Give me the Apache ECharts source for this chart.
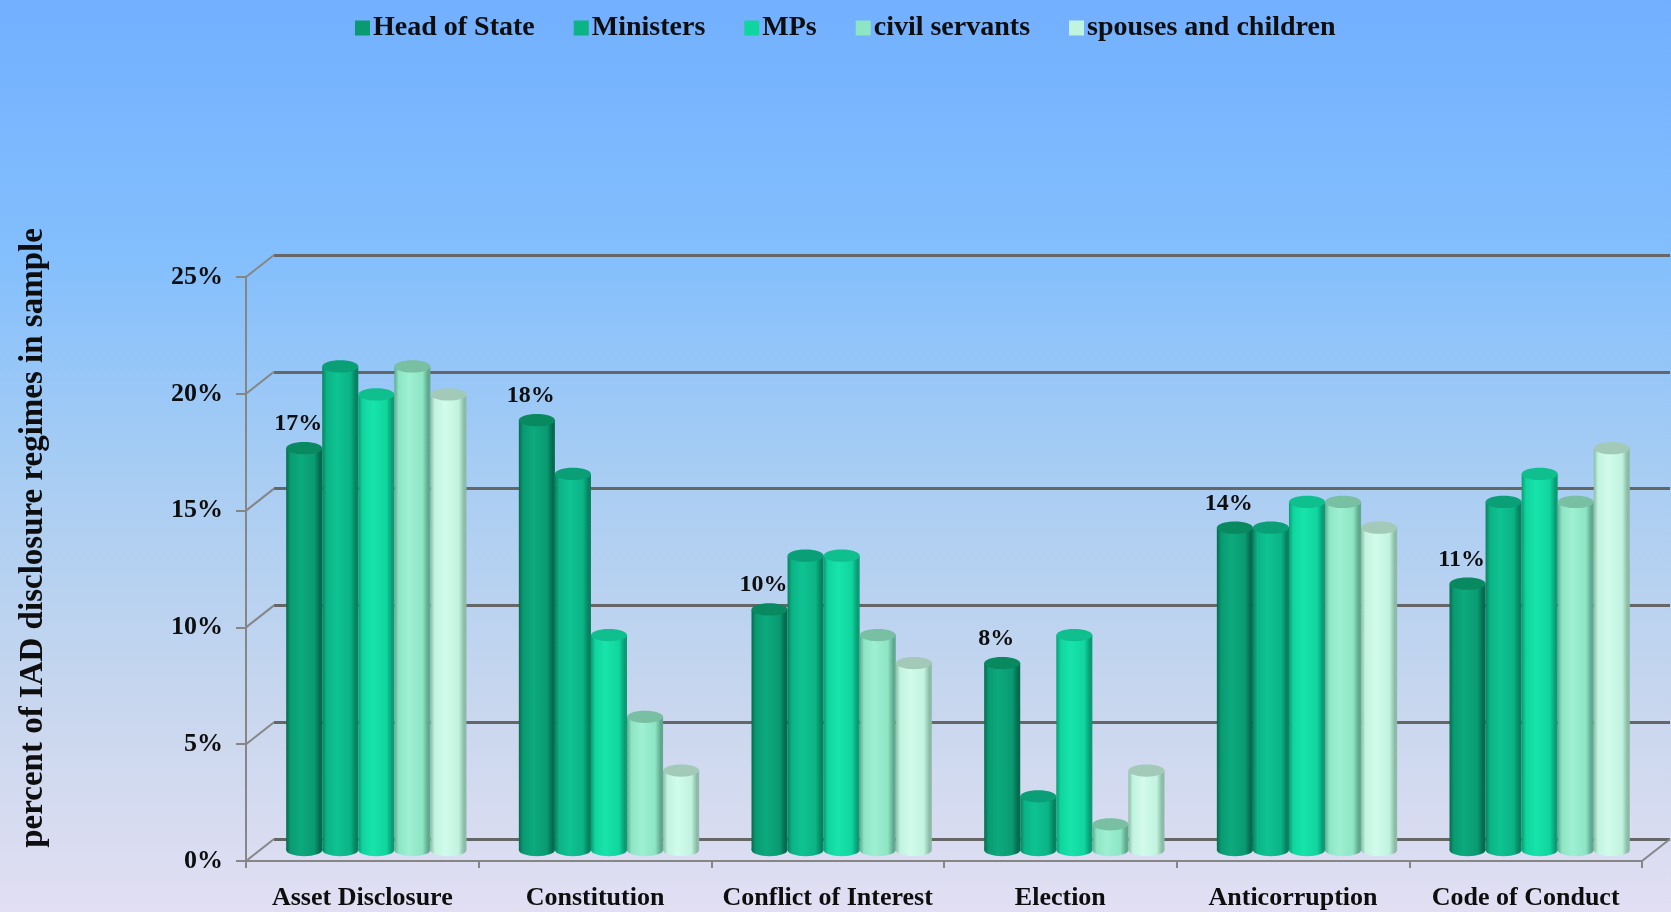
<!DOCTYPE html>
<html>
<head>
<meta charset="utf-8">
<script src="https://cdn.jsdelivr.net/npm/echarts@6/dist/echarts.min.js"></script>
<style>
  html, body { margin: 0; padding: 0; }
  #chart { width: 1671px; height: 912px; }
</style>
</head>
<body>
<div id="chart"></div>
<script>
// ---- data ----
const categories = ['Asset Disclosure', 'Constitution', 'Conflict of Interest', 'Election', 'Anticorruption', 'Code of Conduct'];
const seriesNames = ['Head of State', 'Ministers', 'MPs', 'civil servants', 'spouses and children'];
const headOfState     = [17.2, 18.4, 10.3, 8.0, 13.8, 11.4];
const ministers       = [20.7, 16.1, 12.6, 2.3, 13.8, 14.9];
const mps             = [19.5, 9.2, 12.6, 9.2, 14.9, 16.1];
const civilServants   = [20.7, 5.7, 9.2, 1.1, 14.9, 14.9];
const spousesChildren = [19.5, 3.4, 8.0, 3.4, 13.8, 17.2];
const yTicks = [0, 5, 10, 15, 20, 25];
const labelledSeries = 0; // value labels on Head of State only

const seriesValues = [headOfState, ministers, mps, civilServants, spousesChildren];

// ---- styling ----
const FONT = 'Liberation Serif';
const TEXT = '#0e0e0e';
// cylinder shades: base, dark edge, highlight, top cap
const shades = [
  { base: '#0a9a72', dark: '#056b4e', light: '#0caa7e', cap: '#08895f' },
  { base: '#0bb385', dark: '#07815f', light: '#0ec392', cap: '#0a9f76' },
  { base: '#10d59e', dark: '#0a9c74', light: '#17e4ab', cap: '#0fbf8e' },
  { base: '#8de5c4', dark: '#5fa98e', light: '#9ef0d2', cap: '#78bfa3' },
  { base: '#c1f4e0', dark: '#8cbba7', light: '#d2fbeb', cap: '#a3c9b8' }
];

// pseudo-3D frame: front plane, bar plane (half depth), back wall
const FRONT = { left: 246, right: 29, top: 277, bottom: 51 };
const DEPTH_X = 28, DEPTH_Y = 22;
function plane(f) {
  return {
    left: FRONT.left + f * DEPTH_X,
    right: FRONT.right - f * DEPTH_X,
    top: FRONT.top - f * DEPTH_Y,
    bottom: FRONT.bottom + f * DEPTH_Y,
    containLabel: false
  };
}

const axisGray = '#868686';

function cylinder(k) {
  return function (params, api) {
    const cat = api.value(0);
    const v = api.value(1);
    const base = api.coord([cat, 0]);
    const top = api.coord([cat, v]);
    const band = api.size([1, 0])[0];
    const w = band * 0.155;
    const cx = base[0] + (k - 2) * w;
    const x = cx - w / 2;
    const ry = w * 0.17;
    const s = shades[k];
    const bodyFill = new echarts.graphic.LinearGradient(0, 0, 1, 0, [
      { offset: 0, color: s.dark },
      { offset: 0.12, color: s.base },
      { offset: 0.4, color: s.light },
      { offset: 0.78, color: s.base },
      { offset: 0.93, color: s.dark },
      { offset: 1, color: s.dark }
    ]);
    const children = [
      { type: 'ellipse', shape: { cx: cx, cy: base[1], rx: w / 2, ry: ry }, style: { fill: bodyFill } },
      { type: 'rect', shape: { x: x, y: top[1], width: w, height: base[1] - top[1] }, style: { fill: bodyFill } },
      { type: 'ellipse', shape: { cx: cx, cy: top[1], rx: w / 2, ry: ry }, style: { fill: s.cap } }
    ];
    if (k === labelledSeries) {
      children.push({
        type: 'text',
        style: {
          text: Math.round(v) + '%',
          x: cx - 6, y: top[1] - ry - 6,
          align: 'center', verticalAlign: 'bottom',
          font: 'bold 24px "' + FONT + '"', fill: TEXT
        }
      });
    }
    return { type: 'group', children: children };
  };
}

const barSeries = seriesNames.map(function (name, k) {
  return {
    name: name,
    type: 'custom',
    xAxisIndex: 1,
    yAxisIndex: 1,
    clip: false,
    itemStyle: { color: shades[k].base },
    renderItem: cylinder(k),
    encode: { x: 0, y: 1 },
    data: seriesValues[k].map(function (v, i) { return [i, v]; }),
    z: 5
  };
});

// short depth edges joining the front axis to the back wall
const depthEdges = {
  type: 'custom',
  xAxisIndex: 0,
  yAxisIndex: 0,
  clip: false,
  silent: true,
  renderItem: function (params, api) {
    const cs = params.coordSys;
    const y = api.coord([0, api.value(1)])[1];
    const ls = { stroke: axisGray, lineWidth: 2 };
    const kids = [{ type: 'line', shape: { x1: cs.x, y1: y, x2: cs.x + DEPTH_X, y2: y - DEPTH_Y }, style: ls }];
    if (api.value(1) === 0) {
      kids.push({ type: 'line', shape: { x1: cs.x + cs.width, y1: y, x2: cs.x + cs.width + DEPTH_X, y2: y - DEPTH_Y }, style: ls });
    }
    return { type: 'group', children: kids };
  },
  encode: { x: 0, y: 1 },
  data: yTicks.map(function (t) { return [0, t]; }),
  z: 3
};

const hiddenCat = function (gi) {
  return { type: 'category', gridIndex: gi, data: categories, show: false };
};
const hiddenVal = function (gi) {
  return { type: 'value', gridIndex: gi, min: 0, max: 25, interval: 5, show: false };
};

const option = {
  backgroundColor: new echarts.graphic.LinearGradient(0, 0, 0, 1, [
    { offset: 0, color: '#72afff' },
    { offset: 0.28, color: '#83bffd' },
    { offset: 0.52, color: '#a8cdf3' },
    { offset: 0.78, color: '#c9d7ee' },
    { offset: 1, color: '#e2dff3' }
  ]),
  animation: false,
  textStyle: { fontFamily: FONT },
  legend: {
    data: seriesNames,
    top: 9,
    left: 350,
    icon: 'rect',
    itemWidth: 15,
    itemHeight: 15,
    itemGap: 39,
    textStyle: { fontFamily: FONT, fontWeight: 'bold', fontSize: 28, color: TEXT, padding: [0, 0, 0, -2] }
  },
  graphic: [{
    type: 'text',
    x: 33,
    y: 538,
    rotation: Math.PI / 2,
    style: {
      text: 'percent of IAD disclosure regimes in sample',
      font: 'bold 33px "' + FONT + '"',
      fill: TEXT,
      align: 'center',
      verticalAlign: 'middle'
    }
  }],
  grid: [plane(0), plane(0.5), plane(1)],
  xAxis: [
    {
      type: 'category',
      gridIndex: 0,
      data: categories,
      axisLine: { lineStyle: { color: axisGray, width: 2 } },
      axisTick: { show: true, length: 7, lineStyle: { color: axisGray, width: 2 } },
      axisLabel: { fontFamily: FONT, fontWeight: 'bold', fontSize: 26, color: TEXT, margin: 24, interval: 0 }
    },
    hiddenCat(1),
    hiddenCat(2)
  ],
  yAxis: [
    {
      type: 'value',
      gridIndex: 0,
      min: 0, max: 25, interval: 5,
      axisLine: { show: true, lineStyle: { color: axisGray, width: 2 } },
      axisTick: { show: true, length: 10, lineStyle: { color: axisGray, width: 2 } },
      splitLine: { show: false },
      axisLabel: { formatter: '{value}%', fontFamily: FONT, fontWeight: 'bold', fontSize: 26, color: TEXT, margin: 23 }
    },
    hiddenVal(1),
    {
      type: 'value',
      gridIndex: 2,
      min: 0, max: 25, interval: 5,
      axisLine: { show: false },
      axisTick: { show: false },
      axisLabel: { show: false },
      splitLine: { show: true, lineStyle: { color: '#666666', width: 3 } }
    }
  ],
  series: [depthEdges].concat(barSeries)
};

const chart = echarts.init(document.getElementById('chart'));
chart.setOption(option);
</script>
</body>
</html>
